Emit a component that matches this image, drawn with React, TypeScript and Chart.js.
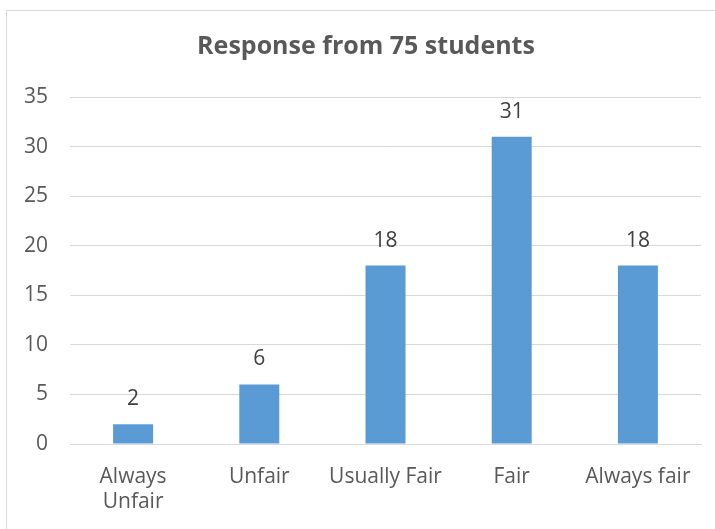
import React, { useEffect, useRef } from "react";
import { Chart, registerables } from "chart.js";

Chart.register(...registerables);

const categories: (string | string[])[] = [["Always", "Unfair"], "Unfair", "Usually Fair", "Fair", "Always fair"];
const responses: number[] = [2, 6, 18, 31, 18];
const yTicks: number[] = [0, 5, 10, 15, 20, 25, 30, 35];
const chartTitle = "Response from 75 students";

const FONT = "'Open Sans', sans-serif";

const valueLabels = {
  id: "valueLabels",
  afterDatasetsDraw(chart: any) {
    const ctx = chart.ctx;
    const meta = chart.getDatasetMeta(0);
    ctx.save();
    ctx.font = `21px ${FONT}`;
    ctx.fillStyle = "#404040";
    ctx.textAlign = "center";
    ctx.textBaseline = "middle";
    meta.data.forEach((bar: any, i: number) => {
      ctx.fillText(String(responses[i]), bar.x, bar.y - 25);
    });
    ctx.restore();
  },
};

const titlePlugin = {
  id: "centeredTitle",
  afterDraw(chart: any) {
    const ctx = chart.ctx;
    ctx.save();
    ctx.font = `bold 25px ${FONT}`;
    ctx.fillStyle = "#595959";
    ctx.textAlign = "center";
    ctx.textBaseline = "middle";
    ctx.fillText(chartTitle, 366, 47);
    ctx.restore();
  },
};

export default function App() {
  const ref = useRef<HTMLCanvasElement>(null);
  useEffect(() => {
    if (!ref.current) return;
    const chart = new Chart(ref.current, {
      type: "bar",
      data: {
        labels: categories,
        datasets: [
          {
            data: responses,
            backgroundColor: "#5B9BD5",
            barPercentage: 0.317,
            categoryPercentage: 1,
          },
        ],
      },
      options: {
        responsive: false,
        animation: false,
        layout: { padding: { left: 0, right: 14, top: 97, bottom: 0 } },
        plugins: {
          legend: { display: false },
          tooltip: { enabled: false },
          title: { display: false },
        },
        scales: {
          x: {
            grid: { display: false, drawTicks: false },
            border: { display: true, color: "#d9d9d9" },
            ticks: {
              color: "#595959",
              font: { family: FONT, size: 21, lineHeight: 1.2 },
              padding: 20,
              maxRotation: 0,
              autoSkip: false,
            },
            afterFit: (s: any) => {
              s.height = 85;
            },
          },
          y: {
            min: 0,
            max: 35,
            afterBuildTicks: (s: any) => {
              s.ticks = yTicks.map((v) => ({ value: v }));
            },
            grid: { color: "#d9d9d9", drawTicks: false },
            border: { display: false },
            ticks: {
              color: "#595959",
              font: { family: FONT, size: 21 },
              padding: 22,
            },
            afterFit: (s: any) => {
              s.width = 70;
            },
          },
        },
      },
      plugins: [valueLabels, titlePlugin],
    });
    return () => chart.destroy();
  }, []);

  return (
    <div
      style={{
        position: "fixed",
        left: 0,
        top: 0,
        width: 715,
        height: 529,
        overflow: "hidden",
        background: "#fff",
      }}
    >
      <div
        style={{
          position: "absolute",
          left: 6,
          top: 10,
          width: 760,
          height: 560,
          border: "1px solid #d9d9d9",
        }}
      />
      <canvas ref={ref} width={715} height={529} style={{ position: "absolute", left: 0, top: 0 }} />
    </div>
  );
}
